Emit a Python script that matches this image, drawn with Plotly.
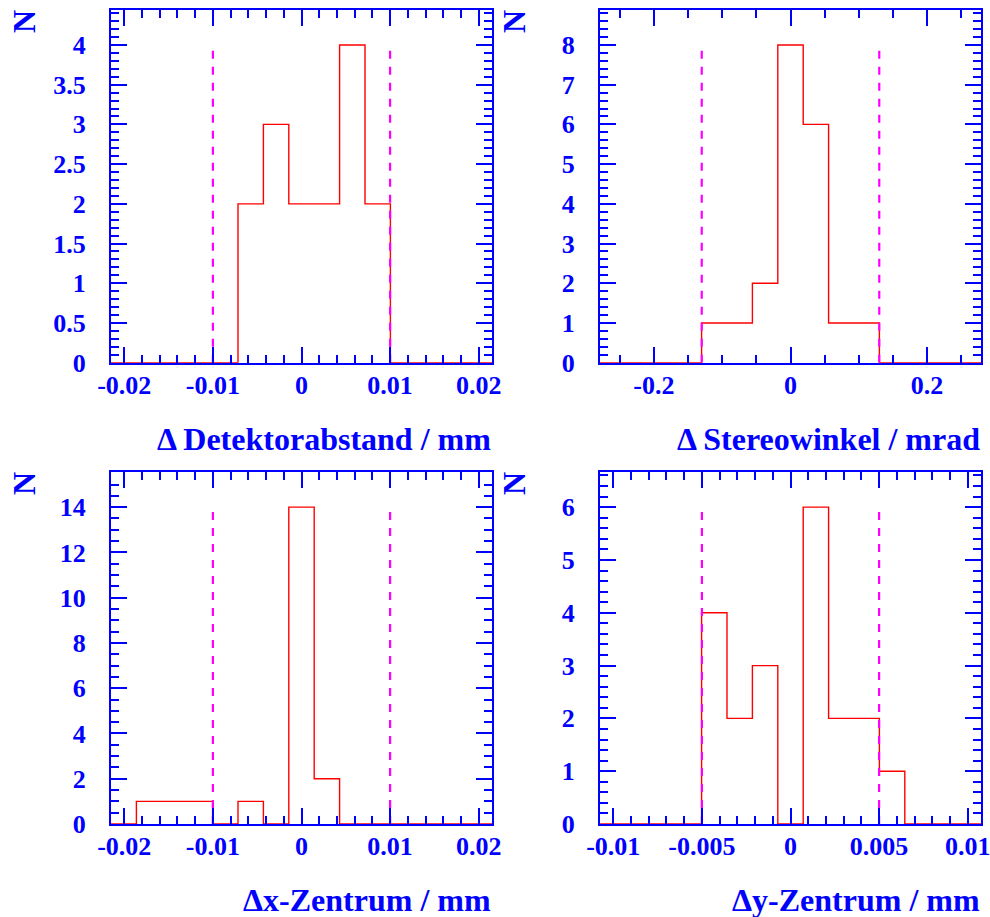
import numpy as np
import plotly.graph_objects as go

# ---- histogram contents (15 equal-width bins per panel) ----
det_counts = [0, 0, 0, 0, 0, 2, 3, 2, 2, 4, 2, 0, 0, 0, 0]
stereo_counts = [0, 0, 0, 0, 1, 1, 2, 8, 6, 1, 1, 0, 0, 0, 0]
xz_counts = [0, 1, 1, 1, 0, 1, 0, 14, 2, 0, 0, 0, 0, 0, 0]
yz_counts = [0, 0, 0, 0, 4, 2, 3, 0, 6, 2, 2, 1, 0, 0, 0]

# histogram x ranges
det_range = [-0.0215, 0.0215]
stereo_range = [-0.279, 0.279]
xz_range = [-0.0215, 0.0215]
yz_range = [-0.01075, 0.01075]

# tolerance limits (dashed lines at +/- value)
det_cut = 0.01
stereo_cut = 0.13
xz_cut = 0.01
yz_cut = 0.005

# x tick labels
det_ticks = [-0.02, -0.01, 0, 0.01, 0.02]
det_ticktext = ["-0.02", "-0.01", "0", "0.01", "0.02"]
stereo_ticks = [-0.2, 0, 0.2]
stereo_ticktext = ["-0.2", "0", "0.2"]
xz_ticks = [-0.02, -0.01, 0, 0.01, 0.02]
xz_ticktext = ["-0.02", "-0.01", "0", "0.01", "0.02"]
yz_ticks = [-0.01, -0.005, 0, 0.005, 0.01]
yz_ticktext = ["-0.01", "-0.005", "0", "0.005", "0.01"]

titles = ["\u0394 Detektorabstand / mm", "\u0394 Stereowinkel / mrad",
          "\u0394x-Zentrum / mm", "\u0394y-Zentrum / mm"]

BLUE = "#0000ff"
FONT = "Liberation Serif"
TICK_SIZE = 26
TITLE_SIZE = 32

panels = [
    dict(counts=det_counts, rng=det_range, cut=det_cut, tv=det_ticks, tt=det_ticktext,
         xminor=0.002, ydt=0.5, yminor=0.1),
    dict(counts=stereo_counts, rng=stereo_range, cut=stereo_cut, tv=stereo_ticks, tt=stereo_ticktext,
         xminor=0.05, ydt=1, yminor=0.2),
    dict(counts=xz_counts, rng=xz_range, cut=xz_cut, tv=xz_ticks, tt=xz_ticktext,
         xminor=0.002, ydt=2, yminor=0.5),
    dict(counts=yz_counts, rng=yz_range, cut=yz_cut, tv=yz_ticks, tt=yz_ticktext,
         xminor=0.001, ydt=1, yminor=0.2),
]

W, H = 990, 917
xdoms = [[111 / W, 492 / W], [600 / W, 981 / W]]
ydoms = [[1 - 362.7 / H, 1 - 10 / H], [1 - 824 / H, 1 - 472.3 / H]]

fig = go.Figure()
layout = dict(
    width=W, height=H, margin=dict(l=0, r=0, t=0, b=0, autoexpand=False),
    paper_bgcolor="white", plot_bgcolor="white", showlegend=False,
    font=dict(family=FONT, color=BLUE),
)
annotations = []

for i, p in enumerate(panels):
    n = i + 1
    xa = "x" if n == 1 else f"x{n}"
    ya = "y" if n == 1 else f"y{n}"
    counts = np.array(p["counts"], dtype=float)
    edges = np.linspace(p["rng"][0], p["rng"][1], len(counts) + 1)
    # step outline of the histogram
    sx = np.concatenate([[edges[0]], edges])
    sy = np.concatenate([[0.0], counts, [0.0]])
    fig.add_trace(go.Scatter(x=sx, y=sy, mode="lines", line_shape="hv",
                             line=dict(color="#ff0000", width=1.4),
                             xaxis=xa, yaxis=ya, hoverinfo="skip"))
    top = counts.max()
    for c in (-p["cut"], p["cut"]):
        fig.add_trace(go.Scatter(x=[c, c], y=[0, top], mode="lines",
                                 line=dict(color="#ff00ff", width=2.2, dash="8px,8px"),
                                 xaxis=xa, yaxis=ya, hoverinfo="skip"))

    col, row = i % 2, i // 2
    ymax = 1.11 * top

    xkey = "xaxis" if n == 1 else f"xaxis{n}"
    ykey = "yaxis" if n == 1 else f"yaxis{n}"
    common = dict(showgrid=False, zeroline=False, showline=True, linecolor=BLUE, linewidth=2,
                  mirror="allticks", ticks="inside", tickcolor=BLUE, tickwidth=1.6, ticklen=16,
                  automargin=False, layer="above traces", ticklabeloverflow="allow",
                  tickfont=dict(family=FONT, size=TICK_SIZE, color=BLUE, weight="bold"))
    layout[xkey] = dict(common, domain=xdoms[col], anchor=ya, range=p["rng"],
                        tickmode="array", tickvals=p["tv"], ticktext=p["tt"],
                        ticklabelstandoff=-2,
                        minor=dict(ticks="inside", tickmode="linear", tick0=0, dtick=p["xminor"],
                                   ticklen=8, tickwidth=1.6, tickcolor=BLUE))
    layout[ykey] = dict(common, domain=ydoms[row], anchor=xa, range=[0, ymax],
                        tickmode="linear", tick0=0, dtick=p["ydt"],
                        ticklabelstandoff=18,
                        minor=dict(ticks="inside", tickmode="linear", tick0=0, dtick=p["yminor"],
                                   ticklen=8, tickwidth=1.6, tickcolor=BLUE))

    # axis titles: x title right-aligned under the frame, "N" at the top-left
    annotations.append(dict(text=titles[i], xref=f"{xa} domain", yref=f"{ya} domain",
                            x=1, y=0, xanchor="right", yanchor="middle", yshift=-76,
                            showarrow=False, borderpad=0,
                            font=dict(family=FONT, size=TITLE_SIZE, color=BLUE, weight="bold")))
    annotations.append(dict(text="N", xref="paper", yref="paper",
                            x=(24 + col * 490) / W, y=1 - (22 + row * 462) / H,
                            xanchor="center", yanchor="middle", textangle=-90,
                            showarrow=False,
                            font=dict(family=FONT, size=TITLE_SIZE, color=BLUE, weight="bold")))

layout["annotations"] = annotations
fig.update_layout(**layout)
fig.write_html("out.html")
